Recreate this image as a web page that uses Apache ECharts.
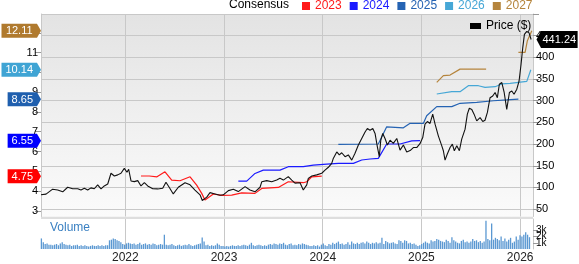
<!DOCTYPE html>
<html><head><meta charset="utf-8">
<script src="https://cdn.jsdelivr.net/npm/echarts@6/dist/echarts.min.js"></script>
<style>html,body{margin:0;padding:0;background:#fff}#c{width:579px;height:264px}</style>
</head><body><div id="c"></div>
<script>
// ---- axis ticks / labels ----
const yearTicks = [2022, 2023, 2024, 2025, 2026];
const epsTicks = [3, 4, 5, 6, 7, 8, 9, 10, 11, 12];
const priceLabelTicks = [50, 100, 150, 200, 250, 300, 350, 400, 450];
const priceGridTicks = [50, 100, 150, 200, 250, 300, 350, 400, 450, 500];
const volumeTicks = [0, 1, 2, 3, 4];
const xRange = [2021.146, 2026.13];
const epsRange = [2.71, 12.96];
const priceRange = [33, 500];
const volumeRange = [0, 4.83];

// ---- price (time in decimal years, price in $) ----
const priceT = [2021.146,2021.197,2021.264,2021.315,2021.366,2021.416,2021.467,2021.518,2021.551,2021.585,2021.619,2021.652,2021.686,2021.720,2021.754,2021.787,2021.822,2021.855,2021.889,2021.923,2021.956,2021.990,2022.017,2022.034,2022.058,2022.091,2022.126,2022.159,2022.193,2022.227,2022.278,2022.328,2022.379,2022.412,2022.446,2022.486,2022.537,2022.605,2022.656,2022.706,2022.757,2022.780,2022.825,2022.858,2022.909,2022.959,2022.993,2023.044,2023.094,2023.145,2023.213,2023.263,2023.314,2023.365,2023.382,2023.433,2023.483,2023.534,2023.567,2023.601,2023.651,2023.686,2023.719,2023.770,2023.803,2023.838,2023.854,2023.889,2023.939,2023.990,2024.023,2024.057,2024.091,2024.107,2024.142,2024.168,2024.192,2024.226,2024.259,2024.294,2024.327,2024.361,2024.395,2024.429,2024.452,2024.479,2024.507,2024.530,2024.553,2024.573,2024.588,2024.608,2024.631,2024.655,2024.682,2024.715,2024.750,2024.783,2024.817,2024.851,2024.885,2024.918,2024.952,2024.985,2025.013,2025.036,2025.060,2025.087,2025.114,2025.138,2025.171,2025.206,2025.222,2025.239,2025.262,2025.290,2025.313,2025.333,2025.358,2025.384,2025.408,2025.442,2025.465,2025.485,2025.510,2025.533,2025.560,2025.594,2025.621,2025.644,2025.668,2025.695,2025.722,2025.746,2025.769,2025.789,2025.814,2025.838,2025.864,2025.891,2025.915,2025.938,2025.966,2025.989,2026.009,2026.026,2026.043,2026.067,2026.090,2026.111];
const priceV = [83,84.5,96,94,90,100.5,97,97,94,98,94,99,97,106,96.6,103.5,108,132.7,126.5,129,132.7,144,135,142,115,113.4,115.7,103.5,111,103.5,97,96.6,98,112,100,85,100.5,111,106,94,83,70,77.6,88,85,82,83,92.7,96,90.4,102,94,90,100.5,113,115.7,113,117,121,117,125,117,110,111,94,106,121,126.5,129,132.7,140,146.5,155.7,167,182,175,180,171,175,163,178.7,198,213,228,236,232,236,224.6,194,171,209,224.6,213,198,209,201.6,213,186,198,182,185,192,192,201,215,246,252,247.6,269,246,219,196,184.6,163,177,192,200,184.6,196,184.6,211.5,234.5,269,282.6,280,269,253.6,261,252,255,273,307,311,319,307,338,342,319,280,319,322.5,315,326.6,345.5,384,422,453,460,456.5,441.24];

// ---- consensus EPS by fiscal year ----
const eps2023T = [2022.159,2022.243,2022.321,2022.402,2022.470,2022.554,2022.656,2022.723,2022.774,2022.807,2022.892,2022.977,2023.078,2023.179,2023.314,2023.382,2023.550,2023.651,2023.803,2023.838,2023.889,2023.990];
const eps2023V = [4.76,4.76,4.72,4.97,4.55,4.52,4.72,4.30,3.88,3.54,3.85,3.78,3.79,3.91,3.88,4.13,4.18,4.47,4.42,4.47,4.72,4.75];
const eps2024T = [2023.145,2023.230,2023.314,2023.398,2023.567,2023.651,2023.803,2023.905,2024.041,2024.158,2024.310,2024.395,2024.479,2024.563,2024.648,2024.783,2024.902,2024.985];
const eps2024V = [4.50,4.50,4.89,5.06,5.06,5.23,5.23,5.31,5.36,5.40,5.40,5.57,5.62,5.65,6.38,6.38,6.54,6.55];
const eps2025T = [2024.158,2024.563,2024.648,2024.817,2024.885,2025.019,2025.053,2025.155,2025.307,2025.391,2025.560,2025.729,2025.864,2025.982];
const eps2025V = [6.36,6.38,7.25,7.20,7.43,7.42,7.81,8.27,8.27,8.44,8.49,8.57,8.61,8.65];
const eps2026T = [2025.155,2025.307,2025.391,2025.475,2025.577,2025.644,2025.746,2025.814,2025.898,2025.982,2026.067,2026.108];
const eps2026V = [8.91,9.03,9.03,9.33,9.33,9.25,9.28,9.42,9.45,9.50,9.55,10.14];
const eps2027T = [2025.155,2025.222,2025.290,2025.391,2025.655,2025.800,2025.982,2026.050,2026.073,2026.118];
const eps2027V = [9.50,9.84,9.87,10.17,10.17,'-',11.02,11.02,11.61,12.11];

const consensusNames = ['2023', '2024', '2025', '2026', '2027'];
const consensusLast = ['4.75', '6.55', '8.65', '10.14', '12.11'];
const lastPriceLabel = '441.24';

// ---- weekly volume (thousands) ----
const volumeStart = 2021.15;
const volumeWeeksPerYear = 52.18;
const volumeV = [1.7,1.1,0.8,0.9,0.7,
0.7,0.6,0.7,0.8,0.6,0.9,1.1,0.8,0.7,0.6,0.7,0.5,0.6,
0.6,0.7,0.5,0.6,0.5,0.6,0.5,0.4,0.5,0.6,0.5,0.5,0.6,
0.5,0.6,0.5,0.6,0.6,1.4,1.5,1.7,1.6,1.4,1.3,1.1,0.8,
0.7,0.9,1.0,0.9,0.8,0.9,0.7,0.8,1.0,0.7,0.8,0.9,0.7,
0.8,0.7,0.9,0.8,0.6,0.7,0.8,0.7,2.3,0.7,0.6,0.7,0.8,
0.6,0.5,0.6,0.7,0.5,0.6,0.7,0.6,0.8,0.6,0.5,0.6,0.7,
0.8,0.9,1.85,1.2,0.6,0.7,0.5,0.6,0.5,0.6,0.9,0.7,0.5,
0.5,0.4,0.5,0.4,0.5,0.6,0.5,0.5,0.6,0.5,0.6,0.7,0.6,
0.5,0.7,1.0,0.6,0.5,0.6,0.7,0.6,0.5,0.6,0.5,0.7,0.8,
0.7,0.9,0.8,0.7,0.9,0.8,1.0,0.7,0.6,0.8,0.9,0.6,0.7,
0.6,0.8,0.7,0.9,0.8,0.7,0.6,0.5,0.5,0.6,0.5,0.6,0.4,
0.7,0.9,0.6,0.5,0.8,0.7,1.0,0.8,1.0,1.2,0.8,0.9,0.7,
0.8,1.1,0.7,1.2,0.9,0.8,1.0,0.8,1.0,1.1,0.9,1.2,1.0,
0.8,1.0,0.9,1.1,0.9,1.0,1.8,0.8,1.3,1.1,0.9,1.0,1.1,
0.9,0.8,1.4,1.3,1.0,1.4,1.3,0.9,1.0,0.8,0.9,0.7,0.5,
0.6,0.8,1.0,1.2,1.0,0.9,1.4,1.2,1.3,1.6,1.5,1.3,1.2,
1.1,1.5,1.3,1.0,1.9,1.4,1.2,1.0,0.9,1.3,1.5,1.1,1.2,
1.0,1.2,1.6,1.3,1.4,1.1,1.3,1.0,1.2,4.55,1.6,1.4,4.1,
1.5,1.8,1.6,1.4,2.0,1.3,1.7,1.2,1.5,1.8,1.0,1.2,2.0,
1.5,2.2,2.0,2.3,2.7,2.3,1.9];

// ---- styles ----
const FONT = "'Liberation Sans', Arial, sans-serif";
const epsColors = ['#ff1a1a', '#1a1aff', '#2563b3', '#46a7d6', '#b5843c'];
const badgeColors = ['#ff0000', '#0000ff', '#1f5fae', '#3fa4d4', '#b07a2e'];
const gridColor = '#c8c8c8';

const zip = (t, v) => t.map((x, i) => [x, v[i]]);
const epsSeriesData = [zip(eps2023T, eps2023V), zip(eps2024T, eps2024V), zip(eps2025T, eps2025V), zip(eps2026T, eps2026V), zip(eps2027T, eps2027V)];
const volumeData = volumeV.map((v, i) => [volumeStart + i / volumeWeeksPerYear, v]);

function textW(s, fs) {
  let w = 0;
  for (const ch of s) w += (ch === '.' ? 0.278 : 0.556) * fs;
  return w;
}

const chart = echarts.init(document.getElementById('c'), null, { renderer: 'canvas' });

const series = [];
consensusNames.forEach((n, i) => {
  series.push({
    name: n, type: 'line', xAxisIndex: 0, yAxisIndex: 0, data: epsSeriesData[i],
    symbol: 'none', connectNulls: false, animation: false,
    lineStyle: { color: epsColors[i], width: 1.2 }, itemStyle: { color: epsColors[i] }, z: 3
  });
});
series.push({
  name: 'Price ($)', type: 'line', xAxisIndex: 0, yAxisIndex: 1, data: zip(priceT, priceV),
  symbol: 'none', animation: false, lineStyle: { color: '#111', width: 1.1 }, itemStyle: { color: '#000' }, z: 4
});
series.push({
  type: 'bar', xAxisIndex: 1, yAxisIndex: 2, data: volumeData, barWidth: 1.3,
  itemStyle: { color: '#5b98d2' }, animation: false
});
// left EPS badges
series.push({
  type: 'custom', xAxisIndex: 0, yAxisIndex: 0, clip: false, z: 20, animation: false,
  data: consensusLast.map((s, i) => [xRange[0], parseFloat(s), i]),
  renderItem: function (params, api) {
    const idx = api.value(2);
    const label = consensusLast[idx];
    const p = api.coord([api.value(0), api.value(1)]);
    const fs = 11, h = 7, tip = 4;
    const tw = textW(label, fs);
    const x1 = p[0], y = p[1];
    const bR = x1 - tip, bL = bR - tw - 8;
    return { type: 'group', children: [
      { type: 'polygon', shape: { points: [[bL, y - h], [bR, y - h], [x1, y], [bR, y + h], [bL, y + h]] }, style: { fill: badgeColors[idx] } },
      { type: 'text', x: (bL + bR) / 2, y: y + 0.5, style: { text: label, fill: '#fff', font: '11px ' + FONT, align: 'center', verticalAlign: 'middle' } }
    ] };
  }
});
// right price badge
series.push({
  type: 'custom', xAxisIndex: 0, yAxisIndex: 1, clip: false, z: 20, animation: false,
  data: [[xRange[1], parseFloat(lastPriceLabel)]],
  renderItem: function (params, api) {
    const p = api.coord([api.value(0), api.value(1)]);
    const fs = 11, h = 8.5;
    const tw = textW(lastPriceLabel, fs);
    const tipX = p[0] + 3.5, bL = p[0] + 8, bR = bL + tw + 3;
    const y = p[1];
    return { type: 'group', children: [
      { type: 'polygon', shape: { points: [[tipX, y], [bL, y - h], [bR, y - h], [bR, y + h], [bL, y + h]] }, style: { fill: '#000' } },
      { type: 'text', x: (bL + bR) / 2, y: y + 0.5, style: { text: lastPriceLabel, fill: '#fff', font: '11px ' + FONT, align: 'center', verticalAlign: 'middle' } }
    ] };
  }
});

chart.setOption({
  animation: false,
  textStyle: { fontFamily: FONT },
  title: [
    { text: 'Consensus', left: 229, top: -1, padding: 0, textStyle: { fontSize: 12, fontWeight: 'normal', color: '#000', fontFamily: FONT } },
    { text: 'Volume', left: 50, top: 222, padding: 0, textStyle: { fontSize: 12, fontWeight: 'normal', color: '#3a80c2', fontFamily: FONT } }
  ],
  legend: [
    { data: consensusNames.map((n, i) => ({ name: n, textStyle: { color: epsColors[i] } })),
      left: 302, top: 0, padding: 0, icon: 'rect', itemWidth: 8, itemHeight: 8, itemGap: 8, selectedMode: false,
      textStyle: { fontSize: 12, fontFamily: FONT, padding: [1, 0, 0, 0] } },
    { data: ['Price ($)'], left: 470, top: 20, padding: 0, icon: 'rect', itemWidth: 11, itemHeight: 6, itemGap: 5, selectedMode: false,
      textStyle: { fontSize: 12, color: '#000', fontFamily: FONT } }
  ],
  graphic: [
    { type: 'rect', shape: { x: 41, y: 216.5, width: 492, height: 2.5 }, style: { fill: '#dedede' }, z: -1 }
  ],
  grid: [
    { left: 41, right: 46, top: 14, height: 202.5, show: true, borderWidth: 0,
      backgroundColor: { type: 'linear', x: 0, y: 0, x2: 0, y2: 1, colorStops: [{ offset: 0, color: '#e3e3e3' }, { offset: 1, color: '#fbfbfb' }] } },
    { left: 41, right: 46, top: 219, height: 35 }
  ],
  xAxis: [
    { type: 'value', gridIndex: 0, min: xRange[0], max: xRange[1],
      axisLine: { show: false }, axisTick: { show: false, customValues: yearTicks },
      axisLabel: { show: false, customValues: yearTicks },
      splitLine: { show: true, lineStyle: { color: gridColor, width: 1 } } },
    { type: 'value', gridIndex: 1, min: xRange[0], max: xRange[1],
      axisLine: { show: false }, axisTick: { show: false, customValues: yearTicks },
      axisLabel: { show: true, customValues: yearTicks, formatter: v => String(Math.round(v)), fontSize: 12, color: '#222', margin: 3 },
      splitLine: { show: true, lineStyle: { color: gridColor, width: 1 } } }
  ],
  yAxis: [
    { type: 'value', gridIndex: 0, position: 'left', min: epsRange[0], max: epsRange[1],
      axisLine: { show: true, lineStyle: { color: gridColor } },
      axisTick: { show: true, length: 6, customValues: epsTicks, lineStyle: { color: '#999' } },
      axisLabel: { customValues: epsTicks, formatter: v => String(Math.round(v)), fontSize: 11, color: '#000', margin: 3 },
      splitLine: { show: false } },
    { type: 'value', gridIndex: 0, position: 'right', min: priceRange[0], max: priceRange[1],
      axisLine: { show: true, lineStyle: { color: gridColor } },
      axisTick: { show: true, length: 6, customValues: priceGridTicks, lineStyle: { color: '#999' } },
      axisLabel: { customValues: priceLabelTicks, fontSize: 11, color: '#000', margin: 3 },
      splitLine: { show: true, lineStyle: { color: gridColor, width: 1 } } },
    { type: 'value', gridIndex: 1, position: 'right', min: volumeRange[0], max: volumeRange[1],
      axisLine: { show: true, lineStyle: { color: gridColor } },
      axisTick: { show: true, length: 5, customValues: volumeTicks, lineStyle: { color: '#999' } },
      axisLabel: { customValues: volumeTicks, formatter: v => (v === 0 ? '0' : v + 'k'), fontSize: 10, color: '#000', margin: 3 },
      splitLine: { show: false } }
  ],
  series: series
});
</script>
</body></html>
